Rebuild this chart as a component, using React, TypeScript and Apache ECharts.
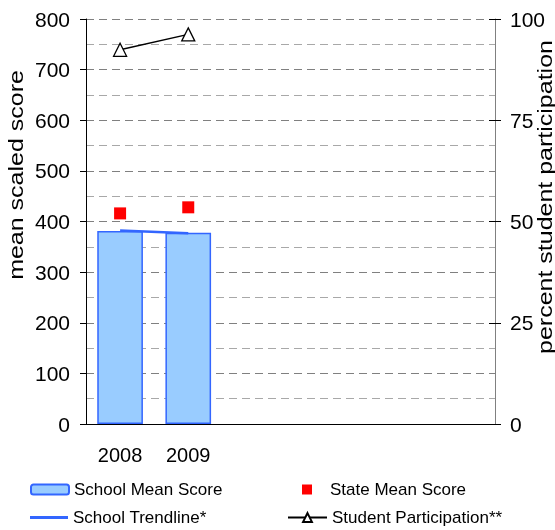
import React, { useEffect, useRef } from "react";
import * as echarts from "echarts";

const categories = ["2008", "2009", "", "", "", ""];
const schoolMean = [381, 378, null, null, null, null];
const stateMean = [416, 428, null, null, null, null];
const trendline = [382, 377, null, null, null, null];
const participation = [92.4, 96.2, null, null, null, null];
const leftTitle = "mean scaled score";
const rightTitle = "percent student participation";

const FONT = "'Liberation Sans', Arial, sans-serif";

export default function App() {
  const ref = useRef<HTMLDivElement>(null);
  useEffect(() => {
    if (!ref.current) return;
    const chart = echarts.init(ref.current, null, { renderer: "svg" });
    const legendText = { fontSize: 17, color: "#000", fontFamily: FONT };
    chart.setOption({
      animation: false,
      textStyle: { fontFamily: FONT },
      grid: { left: 86, right: 60, top: 19, bottom: 106, containLabel: false },
      xAxis: {
        type: "category",
        data: categories,
        axisLine: { lineStyle: { color: "#000", width: 1 } },
        axisTick: { show: false },
        axisLabel: { fontSize: 20, color: "#000", margin: 21, fontFamily: FONT },
      },
      yAxis: [
        {
          type: "value",
          min: 0,
          max: 800,
          interval: 100,
          position: "left",
          axisLine: { show: true, lineStyle: { color: "#000", width: 1 } },
          axisTick: { show: true, length: 6, lineStyle: { color: "#000" } },
          axisLabel: { fontSize: 21, color: "#000", margin: 16, fontFamily: FONT },
          splitLine: { show: true, lineStyle: { color: "#808080", type: [8, 5], width: 1 } },
          minorTick: { show: false, splitNumber: 2 },
          minorSplitLine: { show: true, lineStyle: { color: "#a8a8a8", type: [8, 5], width: 1 } },
        },
        {
          type: "value",
          min: 0,
          max: 100,
          interval: 25,
          position: "right",
          axisLine: { show: true, lineStyle: { color: "#808080", width: 1 } },
          axisTick: { show: true, length: 6, lineStyle: { color: "#000" } },
          axisLabel: { fontSize: 21, color: "#000", margin: 15, fontFamily: FONT },
          splitLine: { show: false },
        },
        {
          type: "value",
          min: 0,
          max: 100,
          interval: 25,
          position: "right",
          axisLine: { show: false },
          axisTick: { show: true, inside: true, length: 6, lineStyle: { color: "#000" } },
          axisLabel: { show: false },
          splitLine: { show: false },
        },
      ],
      legend: [
        {
          data: ["School Mean Score"],
          left: 30,
          top: 481,
          padding: 0,
          itemWidth: 38,
          itemHeight: 10,
          textStyle: legendText,
        },
        {
          data: [{ name: "State Mean Score", icon: "rect" }],
          left: 302,
          top: 481,
          padding: 0,
          itemWidth: 10,
          itemHeight: 10,
          textStyle: { ...legendText, padding: [0, 0, 0, 13] },
        },
        {
          data: [{ name: "School Trendline*", icon: "rect" }],
          left: 30,
          top: 509,
          padding: 0,
          itemWidth: 38,
          itemHeight: 3,
          textStyle: legendText,
        },
        {
          data: ["Student Participation**"],
          left: 287,
          top: 509,
          padding: 0,
          itemWidth: 39,
          itemHeight: 11,
          textStyle: legendText,
        },
      ],
      graphic: [
        {
          type: "text",
          x: 16,
          y: 175,
          rotation: Math.PI / 2,
          scaleX: 1.25,
          style: {
            text: leftTitle,
            fontSize: 20,
            fontFamily: FONT,
            fill: "#000",
            align: "center",
            verticalAlign: "middle",
          },
        },
        {
          type: "text",
          x: 545,
          y: 197,
          rotation: Math.PI / 2,
          scaleX: 1.25,
          style: {
            text: rightTitle,
            fontSize: 20,
            fontFamily: FONT,
            fill: "#000",
            align: "center",
            verticalAlign: "middle",
          },
        },
      ],
      series: [
        {
          name: "School Mean Score",
          type: "bar",
          yAxisIndex: 0,
          data: schoolMean,
          barCategoryGap: "33%",
          itemStyle: { color: "#99ccff", borderColor: "#3366ff", borderWidth: 1.5 },
        },
        {
          name: "State Mean Score",
          type: "scatter",
          yAxisIndex: 0,
          data: stateMean,
          symbol: "rect",
          symbolSize: 12,
          itemStyle: { color: "#ff0000", opacity: 1 },
        },
        {
          name: "School Trendline*",
          type: "line",
          yAxisIndex: 0,
          data: trendline,
          showSymbol: false,
          symbol: "none",
          lineStyle: { color: "#3366ff", width: 2.5 },
          itemStyle: { color: "#3366ff" },
        },
        {
          name: "Student Participation**",
          type: "line",
          yAxisIndex: 1,
          data: participation,
          symbol: "triangle",
          symbolSize: 13,
          lineStyle: { color: "#000", width: 1.5 },
          itemStyle: { color: "#fff", borderColor: "#000", borderWidth: 1.3 },
        },
      ],
    });
    return () => chart.dispose();
  }, []);
  return (
    <div
      ref={ref}
      style={{ position: "fixed", left: 0, top: 0, width: 555, height: 530 }}
    />
  );
}
